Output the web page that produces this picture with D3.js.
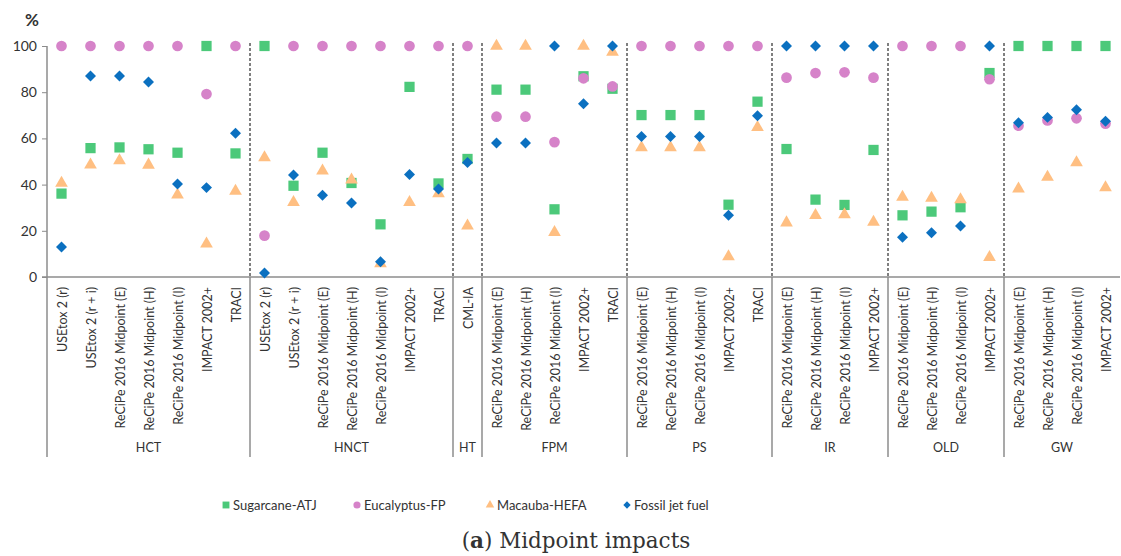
<!DOCTYPE html>
<html>
<head>
<meta charset="utf-8">
<title>Midpoint impacts</title>
<script src="https://d3js.org/d3.v7.min.js"></script>
<style>
  body { margin: 0; background: #fff; }
  text { font-family: Lato, "Open Sans", sans-serif; fill: #333; }
</style>
</head>
<body>
<div id="wrapper"></div>
<script>
// groups with how many methods each one has
const groups = ["HCT", "HNCT", "HT", "FPM", "PS", "IR", "OLD", "GW"];
const groupSizes = [7, 7, 1, 5, 5, 4, 4, 4];

const methods = [
  "USEtox 2 (r)", "USEtox 2 (r + i)", "ReCiPe 2016 Midpoint (E)", "ReCiPe 2016 Midpoint (H)", "ReCiPe 2016 Midpoint (I)", "IMPACT 2002+", "TRACI",
  "USEtox 2 (r)", "USEtox 2 (r + i)", "ReCiPe 2016 Midpoint (E)", "ReCiPe 2016 Midpoint (H)", "ReCiPe 2016 Midpoint (I)", "IMPACT 2002+", "TRACI",
  "CML-IA",
  "ReCiPe 2016 Midpoint (E)", "ReCiPe 2016 Midpoint (H)", "ReCiPe 2016 Midpoint (I)", "IMPACT 2002+", "TRACI",
  "ReCiPe 2016 Midpoint (E)", "ReCiPe 2016 Midpoint (H)", "ReCiPe 2016 Midpoint (I)", "IMPACT 2002+", "TRACI",
  "ReCiPe 2016 Midpoint (E)", "ReCiPe 2016 Midpoint (H)", "ReCiPe 2016 Midpoint (I)", "IMPACT 2002+",
  "ReCiPe 2016 Midpoint (E)", "ReCiPe 2016 Midpoint (H)", "ReCiPe 2016 Midpoint (I)", "IMPACT 2002+",
  "ReCiPe 2016 Midpoint (E)", "ReCiPe 2016 Midpoint (H)", "ReCiPe 2016 Midpoint (I)", "IMPACT 2002+"
];

const sugarcane = [36.1, 55.8, 56.1, 55.3, 53.8, 100, 53.5,
  100, 39.5, 53.8, 40.7, 22.8, 82.3, 40.5,
  51.1,
  81.1, 81.1, 29.3, 86.9, 81.5,
  70.1, 70.1, 70.1, 31.3, 75.9,
  55.4, 33.5, 31.2, 55,
  26.7, 28.3, 30.2, 88.3,
  100, 100, 100, 100];
const eucalyptus = [100, 100, 100, 100, 100, 79.2, 100,
  17.9, 100, 100, 100, 100, 100, 100,
  100,
  69.4, 69.4, 58.4, 86, 82.5,
  100, 100, 100, 100, 100,
  86.3, 88.3, 88.6, 86.3,
  100, 100, 100, 85.6,
  65.5, 67.8, 68.7, 66.4];
const macauba = [40.7, 48.6, 50.4, 48.5, 35.6, 14.4, 37.2,
  51.7, 32.3, 46, 42.1, 5.8, 32.3, 36.1,
  22.1,
  100, 100, 19.3, 100, 97.4,
  56, 56, 56, 8.8, 64.8,
  23.5, 26.7, 27, 23.8,
  34.6, 34.2, 33.5, 8.5,
  38.2, 43.3, 49.5, 38.7];
const fossil = [13, 87, 87, 84.4, 40.3, 38.7, 62.2,
  1.7, 44.2, 35.4, 32, 6.6, 44.4, 38.1,
  49.6,
  58, 58, 100, 75, 100,
  60.8, 60.8, 60.8, 26.7, 69.8,
  100, 100, 100, 100,
  17.2, 19.2, 22.1, 100,
  66.8, 69.1, 72.4, 67.4];

const seriesNames = ["Sugarcane-ATJ", "Eucalyptus-FP", "Macauba-HEFA", "Fossil jet fuel"];
const yTicks = [0, 20, 40, 60, 80, 100];

const dimensions = { width: 1121, height: 556, left: 47, right: 1120, top: 46, bottom: 277, labelBottom: 457 };
const colors = ["#4cc97a", "#d683c9", "#ffbf82", "#0b70c0"];

// square diamond (rotated square) like the spreadsheet marker
const squareDiamond = {
  draw(context, size) {
    const r = Math.sqrt(size / 2);
    context.moveTo(0, -r);
    context.lineTo(r, 0);
    context.lineTo(0, r);
    context.lineTo(-r, 0);
    context.closePath();
  }
};
const symbols = [d3.symbolSquare, d3.symbolCircle, d3.symbolTriangle, squareDiamond];
const sizes = [105, 90, 70, 60];

const svg = d3.select("#wrapper").append("svg")
  .attr("width", dimensions.width).attr("height", dimensions.height);

const xScale = d3.scaleBand().domain(d3.range(methods.length)).range([dimensions.left, dimensions.right]);
const yScale = d3.scaleLinear().domain([0, 100]).range([dimensions.bottom, dimensions.top]);
const xCenter = i => xScale(i) + xScale.bandwidth() / 2;

// group boundaries as category indices
const starts = [];
groupSizes.reduce((acc, n) => { starts.push(acc); return acc + n; }, 0);

// dashed separators inside plot
svg.append("g").selectAll("line").data(starts.slice(1)).join("line")
  .attr("x1", d => xScale(d)).attr("x2", d => xScale(d))
  .attr("y1", dimensions.top - 3).attr("y2", dimensions.bottom)
  .attr("stroke", "#000").attr("stroke-width", 1).attr("stroke-dasharray", "3,2");

// solid separators in the label area
svg.append("g").selectAll("line").data(starts.slice(1)).join("line")
  .attr("x1", d => xScale(d)).attr("x2", d => xScale(d))
  .attr("y1", dimensions.bottom).attr("y2", dimensions.labelBottom)
  .attr("stroke", "#8c8c8c").attr("stroke-width", 1.5);

// y axis
const yAxis = svg.append("g").attr("transform", `translate(${dimensions.left},0)`)
  .call(d3.axisLeft(yScale).tickValues(yTicks).tickSize(5).tickPadding(5));
yAxis.select(".domain").remove();
yAxis.selectAll("line").attr("stroke", "#8c8c8c");
yAxis.selectAll("text").style("font-size", "14px").style("font-family", "Lato, sans-serif").attr("fill", "#333");
svg.append("line").attr("x1", dimensions.left).attr("x2", dimensions.left)
  .attr("y1", dimensions.top).attr("y2", dimensions.labelBottom)
  .attr("stroke", "#8c8c8c").attr("stroke-width", 1.5);

// x axis line
svg.append("line").attr("x1", dimensions.left - 5).attr("x2", dimensions.right)
  .attr("y1", dimensions.bottom).attr("y2", dimensions.bottom)
  .attr("stroke", "#8c8c8c").attr("stroke-width", 1.5);

svg.append("text").attr("x", 25).attr("y", 26).style("font-size", "17px").style("font-weight", "bold")
  .attr("fill", "#222").text("%");

// method labels
svg.append("g").selectAll("text").data(methods).join("text")
  .attr("transform", (d, i) => `translate(${xCenter(i) + 1},${dimensions.bottom + 10}) rotate(-90)`)
  .attr("text-anchor", "end").attr("dy", "0.35em")
  .style("font-size", "12.5px").text(d => d);

// group labels
svg.append("g").selectAll("text").data(groups).join("text")
  .attr("x", (d, i) => xScale(starts[i]) + groupSizes[i] * xScale.bandwidth() / 2)
  .attr("y", 452).attr("text-anchor", "middle")
  .style("font-size", "12.5px").text(d => d);

// markers
const allSeries = [sugarcane, eucalyptus, macauba, fossil];
allSeries.forEach((values, s) => {
  svg.append("g").selectAll("path").data(values).join("path")
    .attr("transform", (d, i) => `translate(${xCenter(i)},${yScale(d)})`)
    .attr("d", d3.symbol().type(symbols[s]).size(sizes[s]))
    .attr("fill", colors[s]);
});

// legend
const legendX = [226, 357, 490, 627];
const legend = svg.append("g").selectAll("g").data(seriesNames).join("g")
  .attr("transform", (d, i) => `translate(${legendX[i]},505)`);
legend.append("path")
  .attr("d", (d, i) => d3.symbol().type(symbols[i]).size(sizes[i] * 0.45)())
  .attr("fill", (d, i) => colors[i]);
legend.append("text").attr("x", 7).attr("dy", "0.35em")
  .style("font-size", "13px").attr("fill", "#222").text(d => d);

// caption
const caption = svg.append("text").attr("x", 576).attr("y", 548).attr("text-anchor", "middle")
  .style("font-family", "'DejaVu Serif', serif").style("font-size", "21.5px").attr("fill", "#111");
caption.append("tspan").text("(");
caption.append("tspan").style("font-weight", "bold").text("a");
caption.append("tspan").text(") Midpoint impacts");
</script>
</body>
</html>
